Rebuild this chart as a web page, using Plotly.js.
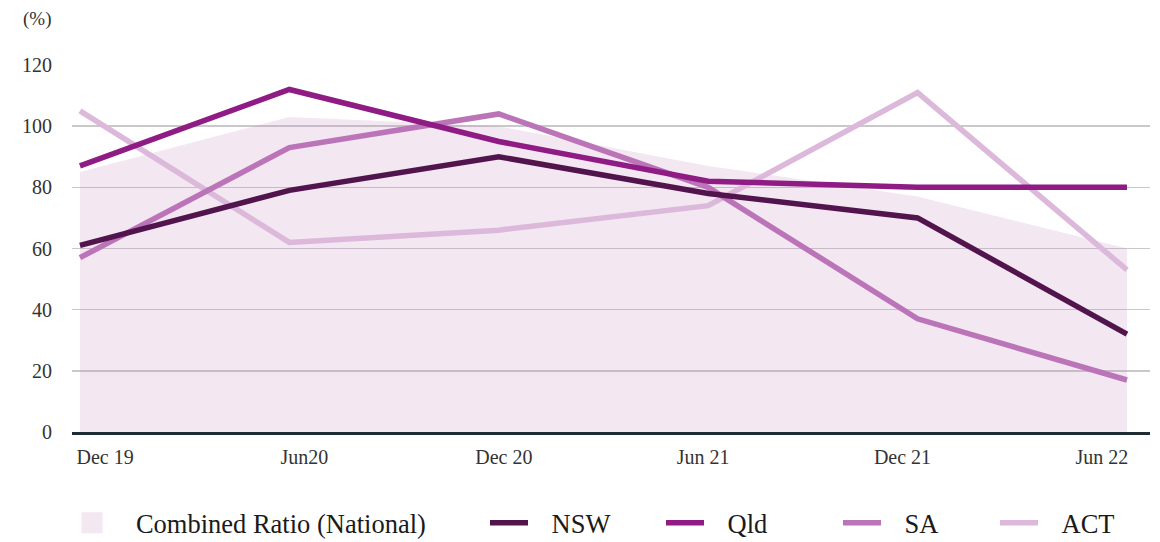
<!DOCTYPE html>
<html>
<head>
<meta charset="utf-8">
<script src="https://cdn.plot.ly/plotly-3.0.1.min.js"></script>
<style>html,body{margin:0;padding:0;background:#fff;} #chart{width:1160px;height:542px;}</style>
</head>
<body>
<div id="chart"></div>
<script>
const periods = ["Dec 19", "Jun20", "Dec 20", "Jun 21", "Dec 21", "Jun 22"];
const national = [85, 103, 100, 87, 77, 60];
const nsw = [61, 79, 90, 78, 70, 32];
const qld = [87, 112, 95, 82, 80, 80];
const sa = [57, 93, 104, 80, 37, 17];
const act = [105, 62, 66, 74, 111, 53];
const yTicks = [0, 20, 40, 60, 80, 100, 120];

const FONT = '"Liberation Serif", "DejaVu Serif", serif';
const idx = periods.map((_, i) => i);
const PAD = "\u00a0\u00a0\u00a0";        // gap between area swatch and text
const PAD_LINE = "\u00a0\u00a0\u2009";   // gap between line swatch and text

// plot area geometry (pixels) used to place legends/labels
const W = 1160, H = 542, ML = 72, MR = 10, MT = 65, MB = 110;
const PW = W - ML - MR, PH = H - MT - MB;
const px = x => (x - ML) / PW;
const py = y => (H - MB - y) / PH;

const AREA = "rgba(195,135,190,0.2)";
const AREA_SOLID = "#f3e7f2";

const lineTrace = (name, y, color, legend) => ({
  type: "scatter", mode: "lines", name: PAD_LINE + name, x: idx, y,
  line: {color, width: 5.5}, legend, hoverinfo: "skip"
});

const traces = [
  {type: "scatter", mode: "lines", name: "Combined Ratio (National)", x: idx, y: national,
   fill: "tozeroy", fillcolor: AREA, line: {width: 0, color: "rgba(0,0,0,0)"},
   showlegend: false, hoverinfo: "skip"},
  // legend-only swatch for the national area
  {type: "scatter", mode: "markers", name: PAD + "Combined Ratio (National)", x: [null], y: [null],
   marker: {symbol: "square", size: 16, color: AREA_SOLID, line: {width: 5, color: AREA_SOLID}},
   legend: "legend", hoverinfo: "skip"},
  lineTrace("ACT", act, "#dcb8da", "legend5"),
  lineTrace("SA", sa, "#bb74b8", "legend4"),
  lineTrace("NSW", nsw, "#52144c", "legend2"),
  lineTrace("Qld", qld, "#8f1b84", "legend3")
];

// x tick labels are spread evenly from first to last, slightly inset
const labFirst = 0.12, labLast = 4.88;
const tickvals = periods.map((_, i) => labFirst + i * (labLast - labFirst) / (periods.length - 1));

const legBase = {orientation: "h", xanchor: "left", yanchor: "middle", bgcolor: "rgba(0,0,0,0)",
  font: {family: FONT, size: 26.5, color: "#1a1a1a"}, itemwidth: 38, itemsizing: "trace",
  itemclick: false, itemdoubleclick: false};
const legAt = x => Object.assign({}, legBase, {x: px(x), y: py(523)});

const layout = {
  width: W, height: H,
  font: {family: FONT, color: "#333"},
  margin: {l: ML, r: MR, t: MT, b: MB, autoexpand: false},
  paper_bgcolor: "#fff", plot_bgcolor: "#fff",
  showlegend: true,
  xaxis: {
    range: [-0.038, 5.11], tickvals, ticktext: periods, showgrid: false, zeroline: false,
    showline: true, linecolor: "#1e2d35", linewidth: 2.5, ticks: "", fixedrange: true,
    tickfont: {family: FONT, size: 20, color: "#333"}, ticklabelstandoff: 5
  },
  yaxis: {
    range: [0, 120], tickvals: yTicks, ticktext: yTicks.map(String), showgrid: true,
    gridcolor: "#c9c9cb", gridwidth: 1.5, zeroline: false, showline: false, ticks: "",
    tickfont: {family: FONT, size: 20, color: "#333"}, ticklabelstandoff: 19, fixedrange: true
  },
  legend: legAt(68),
  legend2: legAt(485),
  legend3: legAt(661),
  legend4: legAt(838),
  legend5: legAt(995),
  annotations: [{
    xref: "paper", yref: "paper", x: px(53), y: py(19), xanchor: "right", yanchor: "middle",
    text: "(%)", showarrow: false, font: {family: FONT, size: 19, color: "#333"}
  }]
};

Plotly.newPlot("chart", traces, layout, {staticPlot: true, displayModeBar: false});
</script>
</body>
</html>
